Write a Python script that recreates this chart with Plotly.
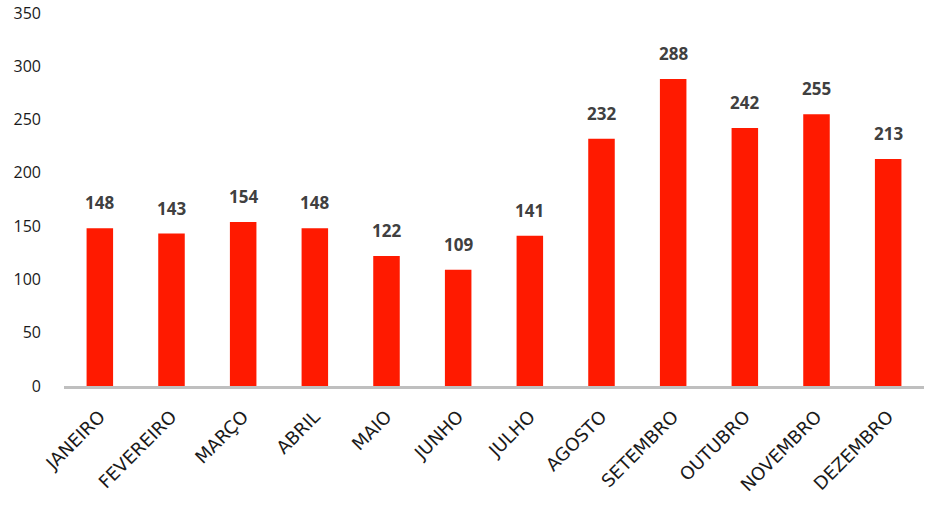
import plotly.graph_objects as go

meses = ['JANEIRO', 'FEVEREIRO', 'MARÇO', 'ABRIL', 'MAIO', 'JUNHO',
         'JULHO', 'AGOSTO', 'SETEMBRO', 'OUTUBRO', 'NOVEMBRO', 'DEZEMBRO']
valores = [148, 143, 154, 148, 122, 109, 141, 232, 288, 242, 255, 213]
y_ticks = [0, 50, 100, 150, 200, 250, 300, 350]

fig = go.Figure(go.Bar(
    x=meses,
    y=valores,
    width=0.37,
    marker=dict(color='#ff1a00', line=dict(width=0)),
))

# rótulos de dados acima das barras
for mes, v in zip(meses, valores):
    fig.add_annotation(
        x=mes, y=v, text=str(v), showarrow=False,
        yanchor='bottom', yshift=12,
        font=dict(family='Open Sans', size=17, color='#404040', weight='bold'),
    )

fig.update_layout(
    width=946, height=518,
    margin=dict(l=64, r=22, t=13, b=132),
    plot_bgcolor='white', paper_bgcolor='white',
    showlegend=False,
    bargap=0.63,
    font=dict(family='DejaVu Sans', size=15, color='#111111'),
)
fig.update_xaxes(
    tickangle=-45, automargin=False,
    showline=True, linecolor='#bfbfbf', linewidth=3,
    ticks='', showgrid=False, ticklabelstandoff=10,
    tickfont=dict(family='DejaVu Sans', size=18, color='#1a1a1a'),
)
fig.update_yaxes(
    range=[0, 350], tickvals=y_ticks, automargin=False,
    showgrid=False, zeroline=False, showline=False,
    ticks='', ticklabelstandoff=22, ticklabeloverflow='allow',
    tickfont=dict(family='Open Sans', size=16, color='#1a1a1a'),
)

# sem margem na página, para o gráfico ocupar a janela inteira
fig.write_html("out.html", config={'displayModeBar': False},
               post_script="document.body.style.margin='0';")
